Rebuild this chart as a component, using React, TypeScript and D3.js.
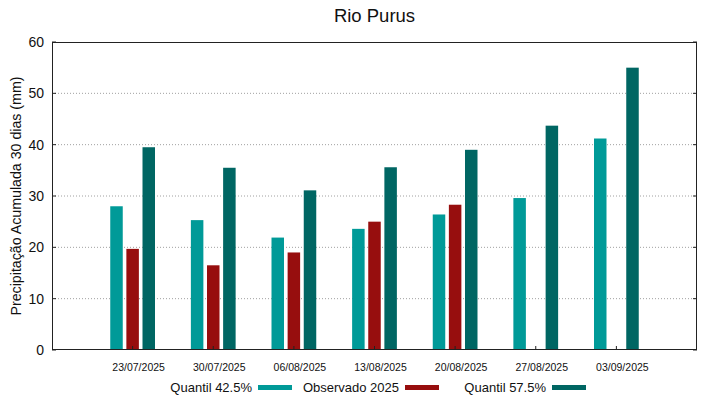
import React, { useEffect, useRef } from "react";
import * as d3 from "d3";

const dates = [
  "23/07/2025",
  "30/07/2025",
  "06/08/2025",
  "13/08/2025",
  "20/08/2025",
  "27/08/2025",
  "03/09/2025",
];
const quantil425 = [28.0, 25.3, 21.9, 23.6, 26.4, 29.6, 41.2];
const observado2025: (number | null)[] = [19.7, 16.5, 19.0, 25.0, 28.3, null, null];
const quantil575 = [39.5, 35.5, 31.1, 35.6, 39.0, 43.7, 55.0];
const yTicks = [0, 10, 20, 30, 40, 50, 60];

const seriesNames = ["Quantil 42.5%", "Observado 2025", "Quantil 57.5%"];
const seriesColors = ["#009a98", "#970e0e", "#006663"];

const App = () => {
  const ref = useRef<SVGSVGElement | null>(null);

  useEffect(() => {
    if (!ref.current) return;
    const svg = d3.select(ref.current);
    svg.selectAll("*").remove();

    const width = 719;
    const height = 399;
    const margin = { top: 42, right: 22, bottom: 49, left: 52 };
    const font = "'Liberation Sans', Arial, sans-serif";

    const x = d3
      .scaleLinear()
      .domain([-1, dates.length])
      .range([margin.left, width - margin.right]);
    const y = d3
      .scaleLinear()
      .domain([0, 60])
      .range([height - margin.bottom, margin.top]);

    // grid lines (dotted)
    svg
      .append("g")
      .selectAll("line")
      .data(yTicks.filter((t) => t > 0 && t < 60))
      .join("line")
      .attr("x1", margin.left)
      .attr("x2", width - margin.right)
      .attr("y1", (d) => y(d))
      .attr("y2", (d) => y(d))
      .attr("stroke", "#a0a0a0")
      .attr("stroke-width", 1)
      .attr("stroke-dasharray", "1,2");

    // bars
    const allSeries = [quantil425, observado2025, quantil575];
    const step = 0.2; // per bar in x units
    const barW = 0.155;
    allSeries.forEach((vals, j) => {
      svg
        .append("g")
        .selectAll("rect")
        .data(vals.map((v, i) => ({ v, i })).filter((d) => d.v !== null))
        .join("rect")
        .attr("x", (d) => x(d.i + (j - 1) * step - barW / 2))
        .attr("width", x(barW) - x(0))
        .attr("y", (d) => y(d.v as number))
        .attr("height", (d) => y(0) - y(d.v as number))
        .attr("fill", seriesColors[j]);
    });

    // frame
    svg
      .append("rect")
      .attr("x", margin.left + 0.5)
      .attr("y", margin.top + 0.5)
      .attr("width", width - margin.left - margin.right - 1)
      .attr("height", height - margin.top - margin.bottom - 1)
      .attr("fill", "none")
      .attr("stroke", "#222")
      .attr("stroke-width", 1);

    // y axis ticks + labels
    const yAxis = svg.append("g");
    yTicks.forEach((t) => {
      yAxis
        .append("line")
        .attr("x1", margin.left)
        .attr("x2", margin.left + 4)
        .attr("y1", y(t))
        .attr("y2", y(t))
        .attr("stroke", "#222");
      yAxis
        .append("line")
        .attr("x1", width - margin.right - 4)
        .attr("x2", width - margin.right)
        .attr("y1", y(t))
        .attr("y2", y(t))
        .attr("stroke", "#222");
      yAxis
        .append("text")
        .attr("x", margin.left - 8)
        .attr("y", y(t))
        .attr("dy", "0.36em")
        .attr("text-anchor", "end")
        .attr("font-family", font)
        .attr("font-size", 14)
        .attr("fill", "#111")
        .text(t);
    });

    // x axis ticks + labels
    const xAxis = svg.append("g");
    dates.forEach((d, i) => {
      xAxis
        .append("line")
        .attr("x1", x(i))
        .attr("x2", x(i))
        .attr("y1", y(0))
        .attr("y2", y(0) - 4)
        .attr("stroke", "#222");
      xAxis
        .append("text")
        .attr("x", x(i) + 6)
        .attr("y", y(0) + 21)
        .attr("text-anchor", "middle")
        .attr("font-family", font)
        .attr("font-size", 10.5)
        .attr("fill", "#111")
        .text(d);
    });

    // y label
    svg
      .append("text")
      .attr("transform", `translate(21,${(y(0) + y(60)) / 2}) rotate(-90)`)
      .attr("text-anchor", "middle")
      .attr("font-family", font)
      .attr("font-size", 14.2)
      .attr("fill", "#111")
      .text("Precipitação Acumulada 30 dias (mm)");

    // title
    svg
      .append("text")
      .attr("x", (margin.left + width - margin.right) / 2)
      .attr("y", 22)
      .attr("text-anchor", "middle")
      .attr("font-family", font)
      .attr("font-size", 18.5)
      .attr("fill", "#111")
      .text("Rio Purus");

    // legend
    const legend = svg.append("g");
    seriesNames.forEach((name, j) => {
      const sx = 258 + j * 147;
      legend
        .append("text")
        .attr("x", sx - 6)
        .attr("y", 387)
        .attr("dy", "0.36em")
        .attr("text-anchor", "end")
        .attr("font-family", font)
        .attr("font-size", 13)
        .attr("fill", "#111")
        .text(name);
      legend
        .append("rect")
        .attr("x", sx)
        .attr("y", 385)
        .attr("width", 34)
        .attr("height", 5)
        .attr("fill", seriesColors[j]);
    });
  }, []);

  return (
    <svg
      ref={ref}
      width={719}
      height={399}
      style={{ position: "absolute", left: 0, top: 0, background: "#fff" }}
    ></svg>
  );
};

export default App;
